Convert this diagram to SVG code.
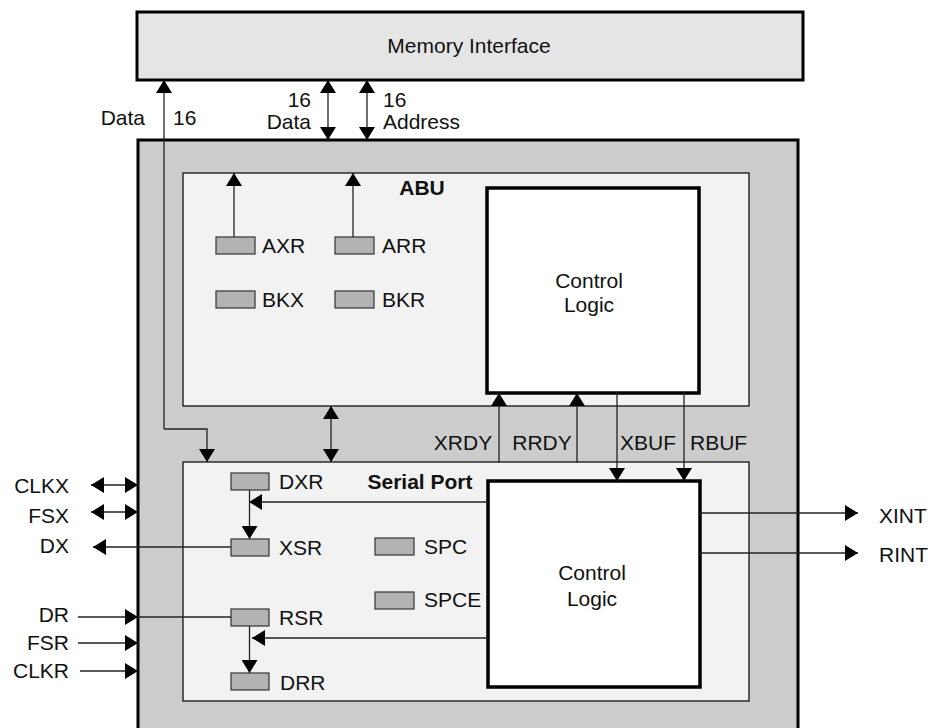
<svg xmlns="http://www.w3.org/2000/svg" width="932" height="728" viewBox="0 0 932 728">
<style>
text{font-family:"Liberation Sans",Arial,sans-serif;font-size:21px;fill:#111}
.b{font-weight:bold}
.m{text-anchor:middle}
.e{text-anchor:end}
.reg{fill:#b3b3b3;stroke:#333;stroke-width:1.2}
.box{fill:#f2f2f2;stroke:#111;stroke-width:1.3}
.ctl{fill:#fff;stroke:#000;stroke-width:3.5}
.c line,.c polyline{stroke:#222;stroke-width:1.3;fill:none}
</style>
<defs>
<marker id="ah" markerUnits="userSpaceOnUse" markerWidth="13" markerHeight="16" refX="13" refY="8" orient="auto-start-reverse">
<path d="M0,0 L13,8 L0,16 Z" fill="#000"/>
</marker>
</defs>
<g id="memory">
<rect x="137" y="12" width="666" height="68" fill="#e5e5e5" stroke="#000" stroke-width="3"/>
<text class="m" x="469" y="53">Memory Interface</text>
</g>
<g id="mcbsp">
<rect x="138" y="140" width="660" height="620" fill="#cccccc" stroke="#000" stroke-width="3"/>
</g>
<g id="abu">
<rect class="box" x="183" y="173" width="566" height="233"/>
<text class="b m" x="422" y="195">ABU</text>
</g>
<g id="abu-control">
<rect class="ctl" x="487" y="188" width="212" height="205"/>
<text class="m" x="589" y="288">Control</text>
<text class="m" x="589" y="312">Logic</text>
</g>
<g id="axr"><rect class="reg" x="216" y="237" width="39" height="17"/><text x="262" y="253">AXR</text></g>
<g id="arr"><rect class="reg" x="335" y="237" width="39" height="17"/><text x="382" y="253">ARR</text></g>
<g id="bkx"><rect class="reg" x="216" y="291" width="39" height="17"/><text x="262" y="307">BKX</text></g>
<g id="bkr"><rect class="reg" x="335" y="291" width="39" height="17"/><text x="382" y="307">BKR</text></g>
<g id="serial-port">
<rect class="box" x="183" y="462" width="566" height="239"/>
<text class="b m" x="420" y="489">Serial Port</text>
</g>
<g id="sp-control">
<rect class="ctl" x="488" y="481" width="212" height="206"/>
<text class="m" x="592" y="580">Control</text>
<text class="m" x="592" y="606">Logic</text>
</g>
<g id="dxr"><rect class="reg" x="231" y="473" width="38" height="17"/><text x="279" y="489">DXR</text></g>
<g id="xsr"><rect class="reg" x="231" y="539" width="38" height="17"/><text x="279" y="555">XSR</text></g>
<g id="rsr"><rect class="reg" x="231" y="609" width="38" height="17"/><text x="279" y="625">RSR</text></g>
<g id="drr"><rect class="reg" x="231" y="673" width="38" height="17"/><text x="280" y="690">DRR</text></g>
<g id="spc"><rect class="reg" x="375" y="538" width="39" height="17"/><text x="424" y="554">SPC</text></g>
<g id="spce"><rect class="reg" x="375" y="592" width="39" height="17"/><text x="424" y="607">SPCE</text></g>
<g id="connectors" class="c">
<polyline points="164,429 164,80" marker-end="url(#ah)"/>
<polyline points="164,429 207,429 207,462" marker-end="url(#ah)"/>
<line x1="328" y1="80" x2="328" y2="140" marker-start="url(#ah)" marker-end="url(#ah)"/>
<line x1="367" y1="80" x2="367" y2="140" marker-start="url(#ah)" marker-end="url(#ah)"/>
<line x1="234" y1="237" x2="234" y2="173" marker-end="url(#ah)"/>
<line x1="353" y1="237" x2="353" y2="173" marker-end="url(#ah)"/>
<line x1="331" y1="406" x2="331" y2="462" marker-start="url(#ah)" marker-end="url(#ah)"/>
<line x1="499" y1="463" x2="499" y2="393" marker-end="url(#ah)"/>
<line x1="577" y1="463" x2="577" y2="393" marker-end="url(#ah)"/>
<line x1="617" y1="392" x2="617" y2="481" marker-end="url(#ah)"/>
<line x1="684" y1="392" x2="684" y2="481" marker-end="url(#ah)"/>
<line x1="488" y1="502" x2="249" y2="502" marker-end="url(#ah)"/>
<line x1="488" y1="638" x2="252" y2="638" marker-end="url(#ah)"/>
<line x1="249.5" y1="490" x2="249.5" y2="539" marker-end="url(#ah)"/>
<line x1="249.5" y1="626" x2="249.5" y2="673" marker-end="url(#ah)"/>
<line x1="231" y1="547" x2="93" y2="547" marker-end="url(#ah)"/>
<line x1="78" y1="617" x2="138" y2="617" marker-end="url(#ah)"/>
<line x1="138" y1="617" x2="231" y2="617"/>
<line x1="78" y1="643" x2="138" y2="643" marker-end="url(#ah)"/>
<line x1="80" y1="671" x2="138" y2="671" marker-end="url(#ah)"/>
<line x1="91" y1="485" x2="138" y2="485" marker-start="url(#ah)" marker-end="url(#ah)"/>
<line x1="91" y1="512" x2="138" y2="512" marker-start="url(#ah)" marker-end="url(#ah)"/>
<line x1="700" y1="513" x2="858" y2="513" marker-end="url(#ah)"/>
<line x1="700" y1="553" x2="858" y2="553" marker-end="url(#ah)"/>
</g>
<g id="labels">
<text class="e" x="145" y="125">Data</text>
<text x="173" y="125">16</text>
<text class="e" x="311" y="107">16</text>
<text class="e" x="311" y="129">Data</text>
<text x="383" y="107">16</text>
<text x="383" y="129">Address</text>
<text class="m" x="463" y="450">XRDY</text>
<text class="m" x="542" y="450">RRDY</text>
<text x="620" y="450">XBUF</text>
<text x="690" y="450">RBUF</text>
<text class="e" x="69" y="493">CLKX</text>
<text class="e" x="69" y="523">FSX</text>
<text class="e" x="69" y="553">DX</text>
<text class="e" x="69" y="622">DR</text>
<text class="e" x="69" y="650">FSR</text>
<text class="e" x="69" y="678">CLKR</text>
<text x="879" y="523">XINT</text>
<text x="879" y="562">RINT</text>
</g>
</svg>
